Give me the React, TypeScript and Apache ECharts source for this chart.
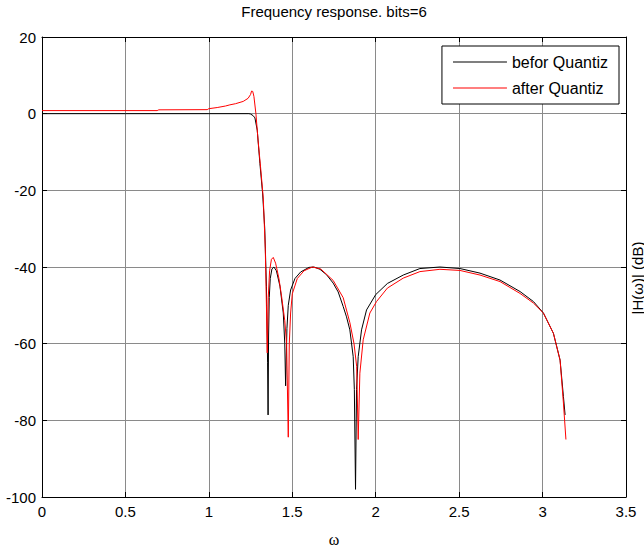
import React, { useEffect, useRef } from "react";
import * as echarts from "echarts";

const chartTitle = "Frequency response. bits=6";
const seriesNames = ["befor Quantiz", "after Quantiz"];
const xTicks = { min: 0, max: 3.5, step: 0.5 };
const yTicks = { min: -100, max: 20, step: 20 };

const beforeW = [0, 0.5, 1.0, 1.24, 1.25, 1.265, 1.276, 1.29, 1.306, 1.322, 1.335, 1.345, 1.352, 1.355, 1.358, 1.362, 1.368, 1.378, 1.39, 1.405, 1.426, 1.446, 1.455, 1.46, 1.468, 1.476, 1.49, 1.516, 1.55, 1.6, 1.63, 1.666, 1.705, 1.745, 1.775, 1.805, 1.825, 1.845, 1.865, 1.872, 1.879, 1.885, 1.895, 1.915, 1.945, 2.0, 2.07, 2.165, 2.265, 2.385, 2.505, 2.625, 2.745, 2.865, 2.945, 3.005, 3.065, 3.105, 3.125, 3.135];
const beforeDb = [0, 0, 0, 0, -0.1, -0.5, -1.1, -4.3, -13, -20.7, -30, -45, -65, -78.6, -58, -48, -43, -40.5, -40, -41, -45, -52, -60, -71, -56, -50, -46, -43, -41.3, -40.1, -40, -40.6, -42, -44.2, -46.5, -50.3, -53, -56.4, -63.4, -72, -98, -72, -63.4, -56.4, -51.2, -47.2, -44.3, -42.1, -40.4, -40, -40.4, -41.6, -43.4, -46.4, -49, -52, -57.3, -64.3, -73.8, -78.6];

const afterW = [0, 0.69, 0.7, 0.99, 1.0, 1.05, 1.1, 1.126, 1.16, 1.206, 1.235, 1.25, 1.256, 1.263, 1.27, 1.282, 1.295, 1.31, 1.326, 1.338, 1.345, 1.35, 1.356, 1.364, 1.375, 1.386, 1.4, 1.42, 1.436, 1.455, 1.466, 1.476, 1.482, 1.49, 1.5, 1.53, 1.57, 1.62, 1.67, 1.745, 1.805, 1.845, 1.87, 1.886, 1.895, 1.905, 1.925, 1.965, 2.005, 2.07, 2.165, 2.265, 2.385, 2.505, 2.625, 2.745, 2.865, 2.945, 3.005, 3.065, 3.105, 3.125, 3.14];
const afterDb = [0.8, 0.8, 1.0, 1.05, 1.3, 1.6, 2.0, 2.3, 2.6, 3.2, 4.0, 5.0, 5.9, 5.8, 4.5, 0, -7, -14, -22, -35, -50, -62.4, -48, -41, -38, -37.5, -39, -43, -47.7, -54, -60, -84.4, -60, -52, -47, -43, -41, -40, -40.5, -43.5, -48, -54.5, -60, -66, -85, -67.7, -59, -52, -49, -45.5, -42.9, -41.2, -40.6, -40.9, -42.1, -43.8, -46.9, -49.4, -52, -57.3, -64.3, -75.5, -85];

const xLabel = "ω";
const yLabel = "|H(ω)| (dB)";

const pair = (xs: number[], ys: number[]) => xs.map((x, i) => [x, ys[i]]);

export default function App() {
  const ref = useRef<HTMLDivElement>(null);
  useEffect(() => {
    if (!ref.current) return;
    const chart = echarts.init(ref.current, null, { renderer: "svg" });
    const font = "'Liberation Sans', Arial, sans-serif";
    const tickStyle = { show: true, inside: true, length: 5, lineStyle: { color: "#000", width: 1 } };
    const lineStyle = { show: true, onZero: false, lineStyle: { color: "#000", width: 1 } };
    const splitLine = { show: true, lineStyle: { color: "#8a8a8a", width: 1 } };
    chart.setOption({
      animation: false,
      backgroundColor: "#fff",
      title: {
        text: chartTitle,
        left: 334,
        textAlign: "center",
        top: 4,
        padding: 0,
        textStyle: { fontFamily: font, fontSize: 15, fontWeight: "normal", color: "#000" },
      },
      legend: {
        orient: "vertical",
        right: 25,
        top: 46,
        padding: [8, 11, 8, 11],
        icon: "rect",
        itemWidth: 54,
        itemHeight: 1,
        itemGap: 10,
        borderColor: "#000",
        borderWidth: 1,
        backgroundColor: "#fff",
        borderRadius: 0,
        textStyle: { fontFamily: font, fontSize: 16, color: "#000", lineHeight: 16 },
        data: seriesNames,
      },
      grid: { left: 42, right: 18, top: 37, bottom: 52 },
      xAxis: [
        {
          type: "value", position: "bottom", min: xTicks.min, max: xTicks.max, interval: xTicks.step,
          axisLine: lineStyle, axisTick: tickStyle, splitLine,
          axisLabel: { fontFamily: font, fontSize: 15, color: "#000", margin: 7 },
        },
        {
          type: "value", position: "top", min: xTicks.min, max: xTicks.max, interval: xTicks.step,
          axisLine: lineStyle, axisTick: tickStyle, splitLine: { show: false }, axisLabel: { show: false },
        },
      ],
      yAxis: [
        {
          type: "value", position: "left", min: yTicks.min, max: yTicks.max, interval: yTicks.step,
          axisLine: lineStyle, axisTick: tickStyle, splitLine,
          axisLabel: { fontFamily: font, fontSize: 15, color: "#000", margin: 6 },
        },
        {
          type: "value", position: "right", min: yTicks.min, max: yTicks.max, interval: yTicks.step,
          axisLine: lineStyle, axisTick: tickStyle, splitLine: { show: false }, axisLabel: { show: false },
        },
      ],
      graphic: [
        {
          type: "text", x: 334, y: 539,
          style: { text: xLabel, font: "16px 'Liberation Serif', 'Times New Roman', serif", fill: "#000", align: "center", verticalAlign: "middle" },
        },
        {
          type: "text", x: 637, y: 278, rotation: Math.PI / 2,
          style: { text: yLabel, font: `15px ${font}`, fill: "#000", align: "center", verticalAlign: "middle" },
        },
      ],
      series: [
        {
          name: seriesNames[0], type: "line", xAxisIndex: 0, yAxisIndex: 0,
          data: pair(beforeW, beforeDb), symbol: "none", smooth: false,
          lineStyle: { color: "#000", width: 1 }, itemStyle: { color: "#000" },
        },
        {
          name: seriesNames[1], type: "line", xAxisIndex: 0, yAxisIndex: 0,
          data: pair(afterW, afterDb), symbol: "none", smooth: false,
          lineStyle: { color: "#ff0000", width: 1 }, itemStyle: { color: "#ff0000" },
        },
      ],
    });
    return () => chart.dispose();
  }, []);
  return <div ref={ref} style={{ position: "fixed", left: 0, top: 0, width: 644, height: 549 }} />;
}
